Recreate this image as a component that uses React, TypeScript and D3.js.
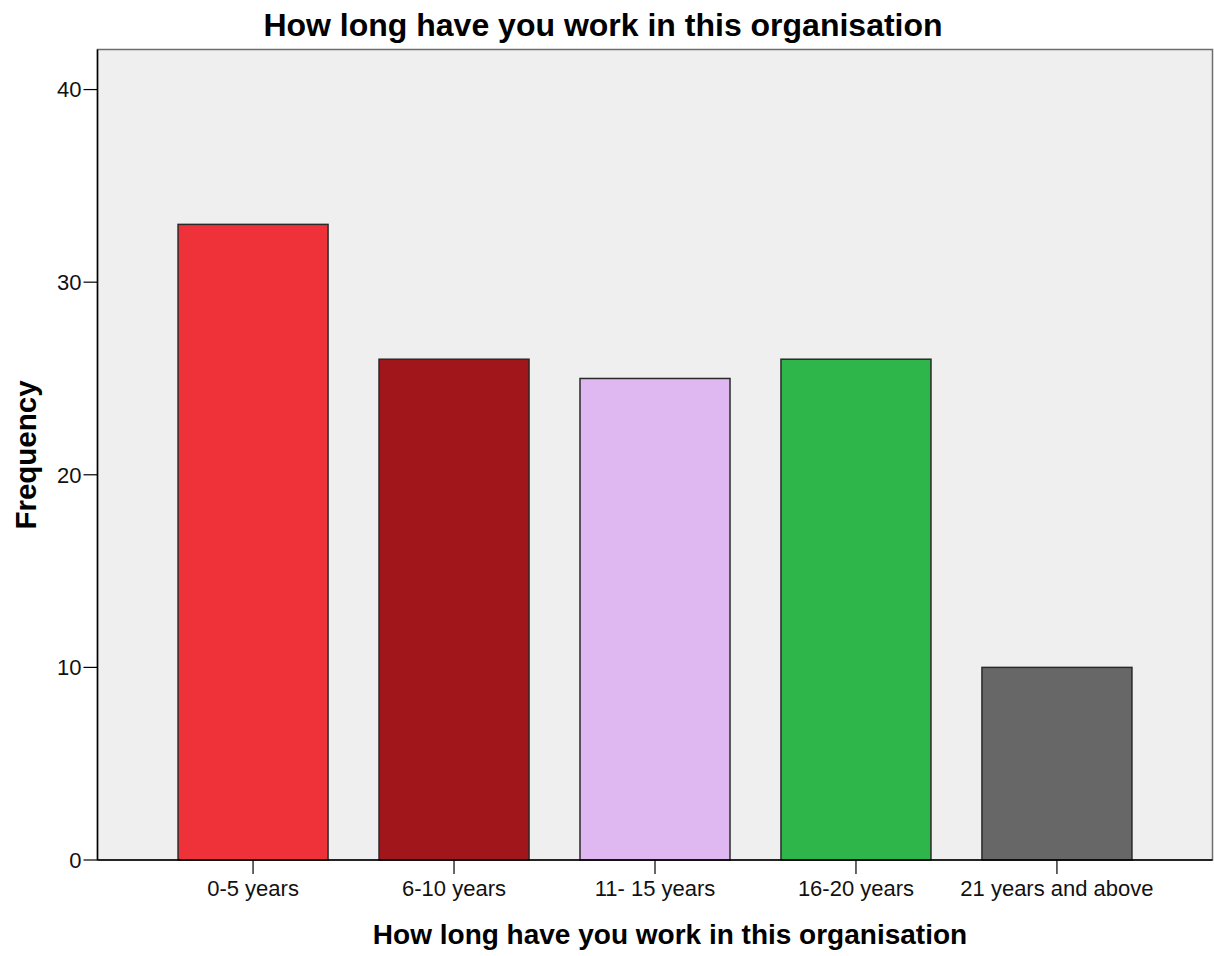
import React from "react";
import * as d3 from "d3";

const categories = ["0-5 years", "6-10 years", "11- 15 years", "16-20 years", "21 years and above"];
const frequencies = [33, 26, 25, 26, 10];
const barColors = ["#ef323a", "#a0161b", "#dfb8f1", "#2eb64a", "#676767"];
const yTicks = [0, 10, 20, 30, 40];

const W = 1214;
const H = 956;
const left = 97.5;
const right = 1212.5;
const top = 49.5;
const bottom = 860;

export default function App() {
  const x = d3.scalePoint<string>().domain(categories).range([left, right]).padding(0.774);
  const y = d3.scaleLinear().domain([0, 42.08]).range([bottom, top]);
  const barW = 150;
  const font = "Arial, 'Liberation Sans', sans-serif";
  return (
    <svg width={W} height={H} style={{ position: "absolute", left: 0, top: 0, background: "#fff" }}>
      <rect x={left} y={top} width={right - left} height={bottom - top} fill="#efefef" stroke="#6e6e6e" strokeWidth={1.5} />
      {categories.map((c, i) => (
        <rect
          key={c}
          x={(x(c) as number) - barW / 2}
          y={y(frequencies[i])}
          width={barW}
          height={bottom - y(frequencies[i])}
          fill={barColors[i]}
          stroke="#2a2a2a"
          strokeWidth={1.5}
        />
      ))}
      <line x1={left} x2={left} y1={top} y2={bottom} stroke="#000" strokeWidth={1.5} />
      <line x1={left} x2={right} y1={bottom} y2={bottom} stroke="#000" strokeWidth={1.5} />
      {yTicks.map((t) => (
        <g key={t}>
          <line x1={left - 14} x2={left} y1={y(t)} y2={y(t)} stroke="#000" strokeWidth={1.2} />
          <text x={left - 16} y={y(t)} dy="0.36em" textAnchor="end" fontFamily={font} fontSize={22} fill="#111">
            {t}
          </text>
        </g>
      ))}
      {categories.map((c) => (
        <g key={c}>
          <line x1={x(c)} x2={x(c)} y1={bottom} y2={bottom + 14} stroke="#000" strokeWidth={1.2} />
          <text x={x(c)} y={895.5} textAnchor="middle" fontFamily={font} fontSize={22} fill="#111">
            {c}
          </text>
        </g>
      ))}
      <text x={603} y={35.5} textAnchor="middle" fontFamily={font} fontSize={32} fontWeight="bold" fill="#000">
        How long have you work in this organisation
      </text>
      <text x={670} y={943.5} textAnchor="middle" fontFamily={font} fontSize={28} fontWeight="bold" fill="#000">
        How long have you work in this organisation
      </text>
      <text
        transform={`translate(36,455) rotate(-90)`}
        textAnchor="middle"
        fontFamily={font}
        fontSize={29.5}
        fontWeight="bold"
        fill="#000"
      >
        Frequency
      </text>
    </svg>
  );
}
